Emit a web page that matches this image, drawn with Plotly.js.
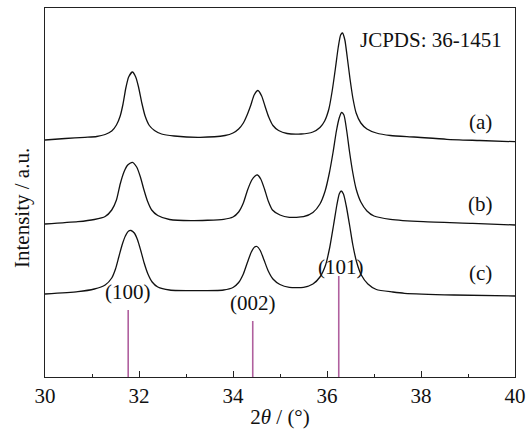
<!DOCTYPE html>
<html>
<head>
<meta charset="utf-8">
<script src="https://cdn.plot.ly/plotly-3.0.1.min.js"></script>
<style>html,body{margin:0;padding:0;background:#fff;}#chart{width:528px;height:429px;}</style>
</head>
<body>
<div id="chart"></div>
<script>
// 2θ values (degrees) and intensities (a.u., stacked as displayed) for each pattern
const xA = [30.00,30.43,30.85,31.10,31.28,31.42,31.52,31.60,31.66,31.72,31.78,31.86,31.93,31.99,32.06,32.13,32.22,32.33,32.48,32.75,33.30,33.83,34.00,34.12,34.22,34.30,34.38,34.45,34.53,34.61,34.68,34.76,34.85,34.97,35.15,35.45,35.70,35.85,35.95,36.04,36.11,36.18,36.24,36.29,36.33,36.38,36.43,36.49,36.55,36.62,36.72,36.85,37.05,37.35,37.85,38.55,39.25,40.00];
const yA = [237,238.5,239.7,240.5,242.5,246,252,261,273,289,300,305,300,290,274,261,251.5,246.5,243,241,239.7,241.5,244,248,254,262,272,282,286.5,281,271,260,251.5,246.5,243.5,243,245,249.5,256,268,286,309,330,342,344,337,320,298,279,264,254,248,244,241.5,240,237.7,236.5,235.3];

const xB = [30.00,30.70,31.05,31.28,31.42,31.52,31.60,31.68,31.76,31.86,31.95,32.03,32.10,32.18,32.27,32.40,32.65,33.10,33.80,34.00,34.12,34.22,34.31,34.40,34.47,34.52,34.59,34.67,34.75,34.84,35.00,35.20,35.50,35.70,35.85,35.96,36.05,36.13,36.20,36.26,36.31,36.36,36.42,36.48,36.55,36.62,36.72,36.85,37.00,37.35,38.05,39.10,40.00];
const yB = [153,155.3,157.5,160.5,167,177,193,205,212,214.7,210,200,188,176,167,161.5,157.5,156.3,157.7,160,165,174,187,197,201,202,198,188,176,167,162,159.7,160.3,164.5,173,186,204,225,246,259,264.5,262,246,225,204,188,175,166,161,157.7,155.3,153.7,152];

const xC = [30.00,30.70,31.05,31.28,31.42,31.50,31.57,31.64,31.71,31.78,31.83,31.90,31.97,32.04,32.11,32.19,32.28,32.40,32.65,33.20,33.80,34.00,34.12,34.22,34.31,34.39,34.46,34.51,34.58,34.66,34.75,34.85,35.00,35.20,35.50,35.70,35.85,35.97,36.06,36.14,36.21,36.26,36.30,36.35,36.41,36.48,36.55,36.63,36.73,36.87,37.05,37.40,37.65,38.70,40.00];
const yC = [83,85.3,88,92,99,108,120,132,141,146,146.5,144,137,126,114,103,95,90,87,86.3,87,89.5,94.5,103,115,125,130,130.5,126.5,117,106,98,92.5,89.7,89.7,93,100,112,130,152,172,183,186,183,171,152,132,115,102,93,87.5,85,83.7,82,81];

// JCPDS 36-1451 reference lines
const refPos = [31.77, 34.42, 36.25];
const refInt = [67, 56, 101];
const refLabels = ['(100)', '(002)', '(101)'];

const sampleLabels = ['(a)', '(b)', '(c)'];
const sampleLabelY = [255, 173, 104];

const xTickVals = [30, 32, 34, 36, 38, 40];

const FONT = 'Liberation Serif, Times New Roman, serif';
const FS = 21;
const refX = [], refY = [];
refPos.forEach((p, i) => { refX.push(p, p, null); refY.push(0, refInt[i], null); });

const lineStyle = {color: '#111', width: 1.3, shape: 'spline', smoothing: 0.6};
const traces = [
  {x: xA, y: yA, mode: 'lines', line: lineStyle, name: '(a)'},
  {x: xB, y: yB, mode: 'lines', line: lineStyle, name: '(b)'},
  {x: xC, y: yC, mode: 'lines', line: lineStyle, name: '(c)'},
  {x: refX, y: refY, mode: 'lines', line: {color: '#b0609e', width: 1.6}, name: 'JCPDS 36-1451'}
];

const labelShift = [4, 4, -5];
const annotations = [];
refPos.forEach((p, i) => annotations.push({
  x: p, y: refInt[i], xref: 'x', yref: 'y', text: refLabels[i], showarrow: false,
  yanchor: 'bottom', yshift: labelShift[i], xshift: i === 2 ? 2 : 0,
  font: {family: FONT, size: FS, color: '#111'}
}));
sampleLabels.forEach((t, i) => annotations.push({
  x: 39.26, y: sampleLabelY[i], xref: 'x', yref: 'y', text: t, showarrow: false,
  font: {family: FONT, size: FS, color: '#111'}
}));
annotations.push({
  x: 38.22, y: 337, xref: 'x', yref: 'y', text: 'JCPDS: 36-1451', showarrow: false,
  font: {family: FONT, size: FS, color: '#111'}
});
annotations.push({
  x: (22 - 45) / 470, y: 377 - 208, xref: 'paper', yref: 'y', xanchor: 'center', yanchor: 'middle',
  text: 'Intensity / a.u.', textangle: -90,
  showarrow: false, font: {family: FONT, size: FS, color: '#111'}
});

const layout = {
  width: 528, height: 429,
  margin: {l: 45, r: 13, t: 8, b: 52},
  paper_bgcolor: '#fff', plot_bgcolor: '#fff',
  showlegend: false,
  font: {family: FONT, size: FS, color: '#111'},
  xaxis: {
    range: [30, 40], tickvals: xTickVals, ticks: 'inside', ticklen: 6, tickwidth: 1, tickcolor: '#222',
    minor: {dtick: 1, tick0: 30, ticks: 'inside', ticklen: 3, tickcolor: '#222'},
    showline: true, linecolor: '#222', linewidth: 1.2, mirror: true, showgrid: false, zeroline: false,
    tickfont: {family: FONT, size: FS, color: '#111'},
    title: {text: '2<i>θ</i> / (°)', font: {family: FONT, size: FS, color: '#111'}, standoff: 1},
    automargin: false
  },
  yaxis: {
    range: [0, 369], showticklabels: false, ticks: '', showline: true, linecolor: '#222', linewidth: 1.2,
    mirror: true, showgrid: false, zeroline: false, automargin: false
  },
  annotations: annotations
};

Plotly.newPlot('chart', traces, layout, {displayModeBar: false, staticPlot: true});
</script>
</body>
</html>
